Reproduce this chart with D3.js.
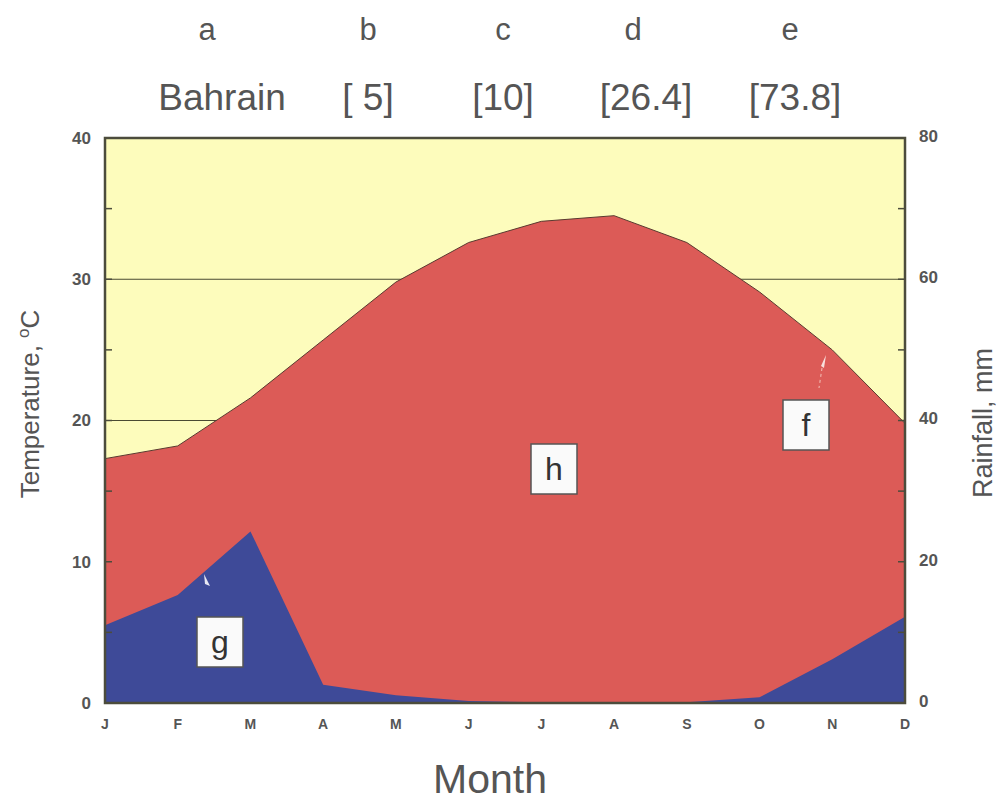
<!DOCTYPE html>
<html>
<head>
<meta charset="utf-8">
<script src="https://cdn.jsdelivr.net/npm/d3@7.9.0/dist/d3.min.js"></script>
<style>
  body { margin: 0; background: #fff; }
  svg { display: block; font-family: "Liberation Sans", Arial, sans-serif; }
</style>
</head>
<body>
<svg id="chart" width="999" height="802"></svg>
<script>
const months = ['J', 'F', 'M', 'A', 'M', 'J', 'J', 'A', 'S', 'O', 'N', 'D'];
const temperature = [17.3, 18.2, 21.6, 25.7, 29.8, 32.6, 34.1, 34.5, 32.6, 29.1, 25.0, 19.8];
const rainfall = [11.0, 15.3, 24.3, 2.6, 1.1, 0.3, 0.1, 0.1, 0.1, 0.8, 6.2, 12.2];
const headerLetters = ['a', 'b', 'c', 'd', 'e'];
const headerValues = ['Bahrain', '[ 5]', '[10]', '[26.4]', '[73.8]'];
const tempTicks = [0, 10, 20, 30, 40];
const rainTicks = [0, 20, 40, 60, 80];

const svg = d3.select('#chart');
const margin = { left: 105, right: 94, top: 138, bottom: 99 };
const width = 999 - margin.left - margin.right;
const height = 802 - margin.top - margin.bottom;

const g = svg.append('g').attr('transform', `translate(${margin.left},${margin.top})`);

const x = d3.scalePoint().domain(d3.range(months.length)).range([0, width]);
const yT = d3.scaleLinear().domain([0, 40]).range([height, 0]);
const yR = d3.scaleLinear().domain([0, 80]).range([height, 0]);

// yellow background
g.append('rect')
    .attr('width', width).attr('height', height)
    .attr('fill', '#fdfcbc');

// gridlines (under the red area)
g.selectAll('.grid')
    .data([10, 20, 30])
    .enter()
    .append('line')
    .attr('x1', 0).attr('x2', width)
    .attr('y1', d => yT(d)).attr('y2', d => yT(d))
    .attr('stroke', '#4a4a32').attr('stroke-width', 1);

const tempArea = d3.area()
    .x((d, i) => x(i))
    .y0(height)
    .y1(d => yT(d));

g.append('path')
    .datum(temperature)
    .attr('d', tempArea)
    .attr('fill', '#dc5b57');

g.append('path')
    .datum(temperature)
    .attr('d', d3.line().x((d, i) => x(i)).y(d => yT(d)))
    .attr('fill', 'none')
    .attr('stroke', '#5a3a30')
    .attr('stroke-width', 1);

const rainArea = d3.area()
    .x((d, i) => x(i))
    .y0(height)
    .y1(d => yR(d));

g.append('path')
    .datum(rainfall)
    .attr('d', rainArea)
    .attr('fill', '#3e4a98');

// frame
g.append('rect')
    .attr('width', width).attr('height', height)
    .attr('fill', 'none')
    .attr('stroke', '#4c4c3c').attr('stroke-width', 2.5);

// minor ticks on both sides every 5 degC
const minor = d3.range(5, 40, 5);
g.selectAll('.ltick').data(minor).enter().append('line')
    .attr('x1', 0).attr('x2', 7)
    .attr('y1', d => yT(d)).attr('y2', d => yT(d))
    .attr('stroke', '#4c4c3c').attr('stroke-width', 1.5);
g.selectAll('.rtick').data(minor).enter().append('line')
    .attr('x1', width - 7).attr('x2', width)
    .attr('y1', d => yT(d)).attr('y2', d => yT(d))
    .attr('stroke', '#4c4c3c').attr('stroke-width', 1.5);

// axis labels
const tickStyle = s => s.attr('fill', '#555').style('font-size', '17px').style('font-weight', 'bold');

g.selectAll('.tl').data(tempTicks).enter().append('text')
    .attr('x', -14).attr('y', d => yT(d)).attr('dy', '0.35em')
    .attr('text-anchor', 'end')
    .text(d => d)
    .call(tickStyle);

g.selectAll('.rl').data(rainTicks).enter().append('text')
    .attr('x', width + 14).attr('y', d => yR(d) - 2).attr('dy', '0.35em')
    .attr('text-anchor', 'start')
    .text(d => d)
    .call(tickStyle);

g.selectAll('.ml').data(months).enter().append('text')
    .attr('x', (d, i) => x(i)).attr('y', height + 26)
    .attr('text-anchor', 'middle')
    .text(d => d)
    .attr('fill', '#555').style('font-size', '14px').style('font-weight', 'bold');

// titles
svg.append('text')
    .attr('x', 490).attr('y', 793)
    .attr('text-anchor', 'middle')
    .attr('fill', '#555').style('font-size', '41px')
    .text('Month');

svg.append('text')
    .attr('transform', 'translate(39,404) rotate(-90)')
    .attr('text-anchor', 'middle')
    .attr('fill', '#555').style('font-size', '26px')
    .html('Temperature, <tspan dy="-10" font-size="17">o</tspan><tspan dy="10">C</tspan>');

svg.append('text')
    .attr('transform', 'translate(992,423) rotate(-90)')
    .attr('text-anchor', 'middle')
    .attr('fill', '#555').style('font-size', '27px')
    .text('Rainfall, mm');

// header rows
const headerX = [207, 368, 503, 633, 790];
const valueX = [222, 368, 503, 646, 795];
svg.selectAll('.hl').data(headerLetters).enter().append('text')
    .attr('x', (d, i) => headerX[i]).attr('y', 40)
    .attr('text-anchor', 'middle')
    .attr('fill', '#555').style('font-size', '31px')
    .text(d => d);

svg.selectAll('.hv').data(headerValues).enter().append('text')
    .attr('x', (d, i) => valueX[i]).attr('y', 110)
    .attr('text-anchor', 'middle')
    .attr('fill', '#555').style('font-size', '37px')
    .text(d => d);

// boxed labels
const boxes = [
    { t: 'h', cx: 554, cy: 469 },
    { t: 'f', cx: 806, cy: 425 },
    { t: 'g', cx: 220, cy: 642 }
];
boxes.forEach(b => {
    svg.append('rect')
        .attr('x', b.cx - 23).attr('y', b.cy - 25)
        .attr('width', 46).attr('height', 50)
        .attr('fill', '#fafafa').attr('stroke', '#555').attr('stroke-width', 1.5);
    svg.append('text')
        .attr('x', b.cx).attr('y', b.cy + 11)
        .attr('text-anchor', 'middle')
        .attr('fill', '#333').style('font-size', '32px')
        .text(b.t);
});

// small white pointers
svg.append('path').attr('d', 'M204,574 L210,586 L205,584 Z').attr('fill', '#e8e8f4');
svg.append('path').attr('d', 'M826,355 L824,368 L821,366 Z').attr('fill', '#f8e0dc');
svg.append('line').attr('x1', 822).attr('y1', 368).attr('x2', 819).attr('y2', 388)
    .attr('stroke', '#f0b0a8').attr('stroke-width', 1.2).attr('stroke-dasharray', '3,3');
</script>
</body>
</html>
